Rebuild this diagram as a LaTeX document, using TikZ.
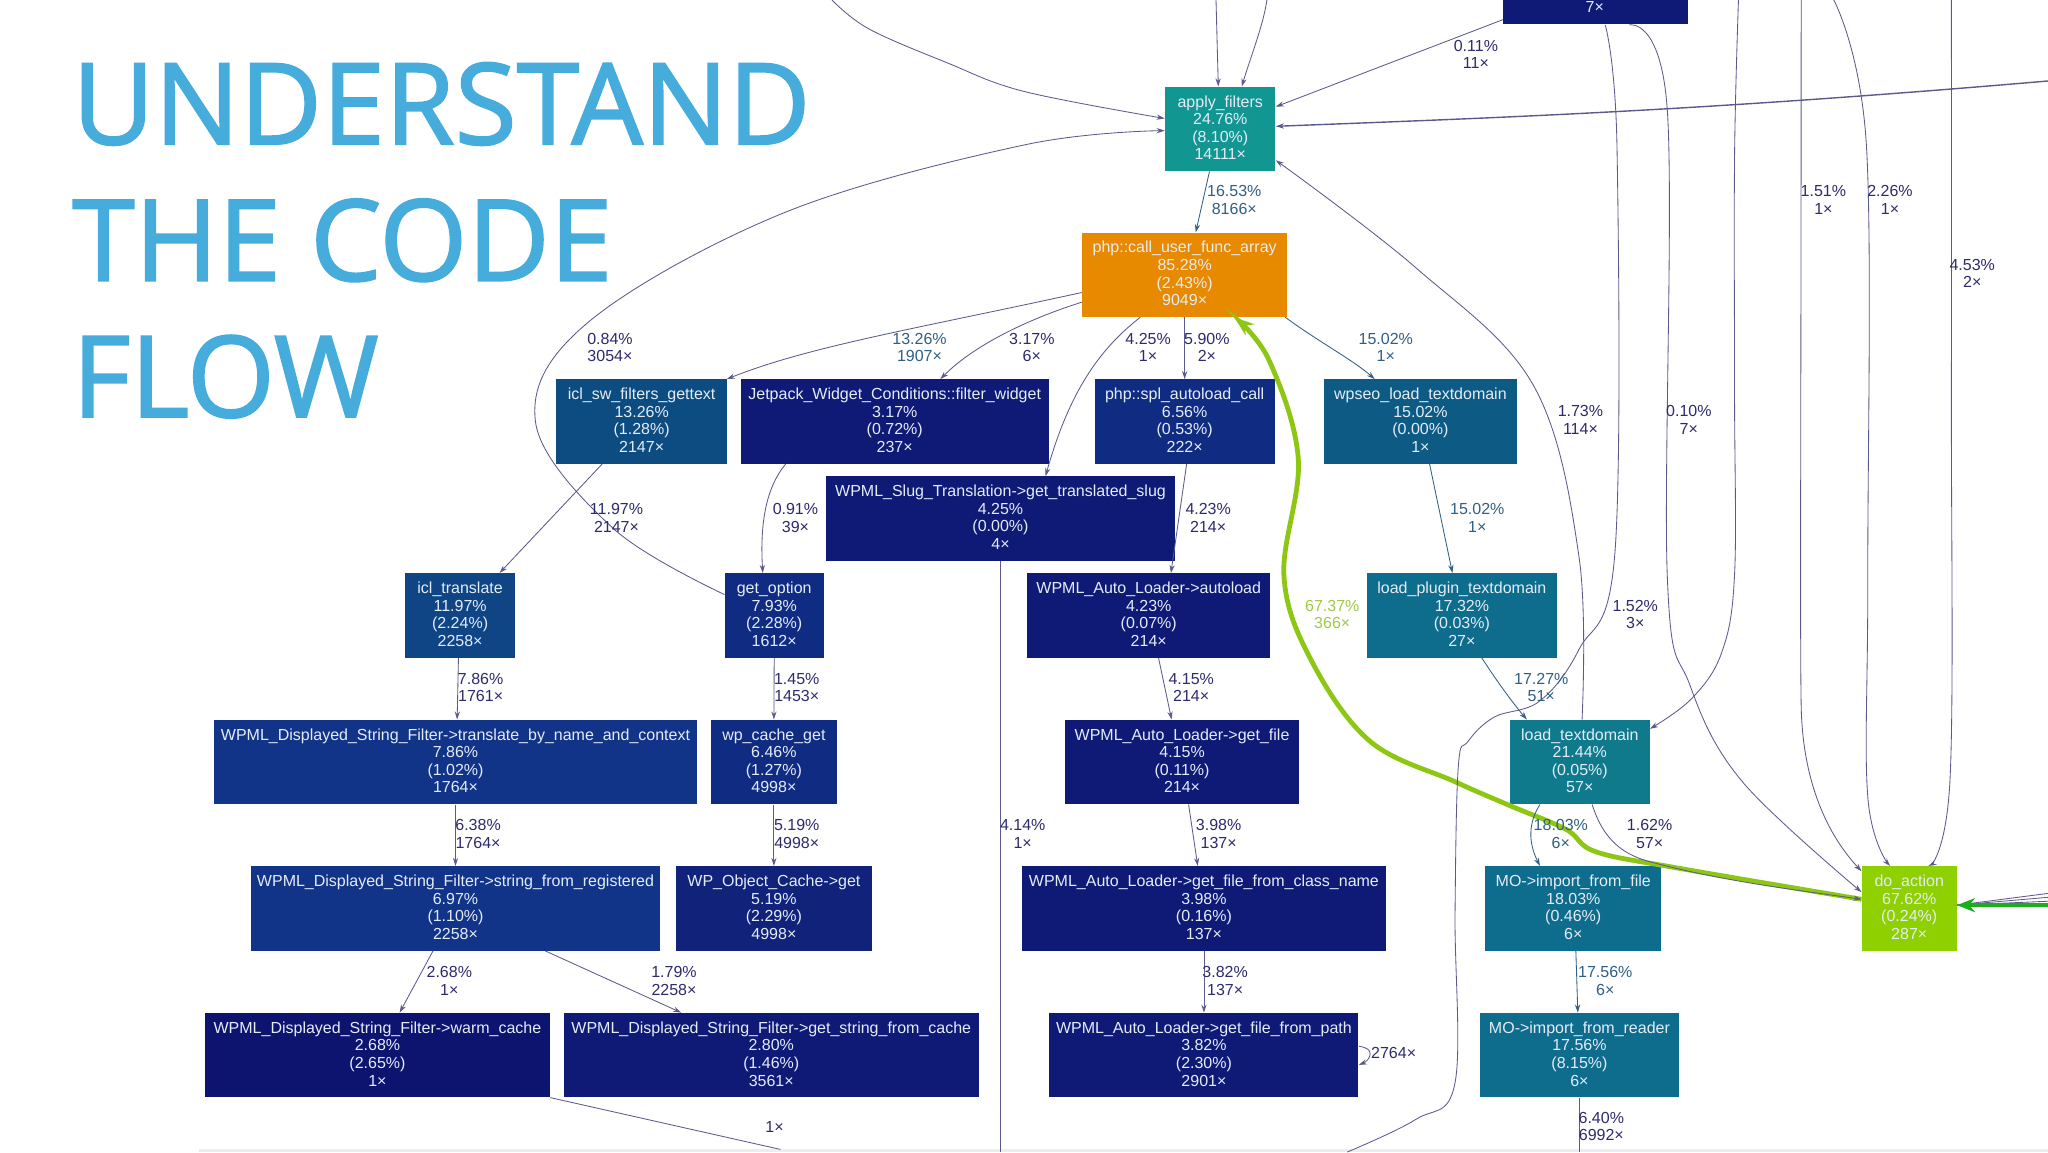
\documentclass[tikz,border=0pt]{standalone}
\usepackage{fontspec}
\setmainfont{Liberation Sans}
\newfontfamily\titlefont{Open Sans}[FakeBold=1.6]
\usetikzlibrary{arrows.meta}
\definecolor{titleblue}{HTML}{46ACDC}
\definecolor{edgeblue}{HTML}{5A5A8C}
\definecolor{labelblue}{HTML}{2E2A6E}
\definecolor{tealabel}{HTML}{305F85}
\definecolor{limelabel}{HTML}{A2C84A}
\definecolor{arrowlime}{HTML}{8DC714}
\definecolor{arrowgreen}{HTML}{1AAE1A}
\definecolor{fntext}{HTML}{E4ECF8}
% function box fills, hottest to coldest
\definecolor{fnorange}{HTML}{E88A00}
\definecolor{fnlime}{HTML}{8FD000}
\definecolor{fnteal}{HTML}{119691}
\definecolor{fnteala}{HTML}{0F7A8C}
\definecolor{fntealb}{HTML}{0E6C8C}
\definecolor{fntealc}{HTML}{0D5B84}
\definecolor{fnblue}{HTML}{0D4C80}
\definecolor{fnbluea}{HTML}{0F4584}
\definecolor{fnblueb}{HTML}{113488}
\definecolor{fnbluec}{HTML}{102C82}
\definecolor{fnnavy}{HTML}{10227A}
\definecolor{fnnavya}{HTML}{0E1A76}
\definecolor{fnnavyb}{HTML}{0C1470}
\tikzset{
  fn/.style 2 args={inner sep=0pt, text=fntext, align=center, rectangle,
    font=\fontsize{8}{8.8}\selectfont, text depth=1.3pt,
    minimum height=42.1pt, minimum width=#1*0.65306pt, fill=#2},
  lab/.style={inner sep=0pt, align=center, text=labelblue,
    font=\fontsize{8}{8.7}\selectfont},
  tlab/.style={lab, text=tealabel},
  call/.style={draw=edgeblue, line width=0.42pt, -{Stealth[length=4pt,width=2.6pt]}},
  open/.style={draw=edgeblue, line width=0.42pt},
  hot/.style={draw=arrowlime, line width=2.4pt, -{Stealth[length=10pt,width=7pt]}},
}
\begin{document}
\begin{tikzpicture}[x=0.65306pt, y=-0.65306pt]
  \clip (0,0) rectangle (1568,882);
  \fill[white] (0,0) rectangle (1568,882);
  \fill[black!7] (152,880) rectangle (1568,882);

  \node[inner sep=0pt, align=left, anchor=north west, text=titleblue,
    font=\titlefont\fontsize{56.5}{68.2}\selectfont] (title) at (55,47.5)
    {UNDERSTAND\\THE CODE\\FLOW};

  % functions
  \node[fn={141.5}{fnnavya}] (top) at (1221.75,-13.5) {};
  \node[fn={84.5}{fnteal}] (apply) at (934.25,98.7) {apply\_filters\\24.76\%\\(8.10\%)\\14111×};
  \node[fn={157}{fnorange}] (cufa) at (907,210.35) {php::call\_user\_func\_array\\85.28\%\\(2.43\%)\\9049×};
  \node[fn={130.5}{fnblue}] (sw) at (491.25,322.75) {icl\_sw\_filters\_gettext\\13.26\%\\(1.28\%)\\2147×};
  \node[fn={236}{fnnavya}] (jetpack) at (685,322.75) {Jetpack\_Widget\_Conditions::filter\_widget\\3.17\%\\(0.72\%)\\237×};
  \node[fn={138}{fnbluec}] (spl) at (907,322.75) {php::spl\_autoload\_call\\6.56\%\\(0.53\%)\\222×};
  \node[fn={148}{fntealc}] (wpseo) at (1087.5,322.75) {wpseo\_load\_textdomain\\15.02\%\\(0.00\%)\\1×};
  \node[fn={267}{fnnavya}] (slug) at (766,397) {WPML\_Slug\_Translation->get\_translated\_slug\\4.25\%\\(0.00\%)\\4×};
  \node[fn={84.5}{fnbluea}] (icl) at (352.25,471.2) {icl\_translate\\11.97\%\\(2.24\%)\\2258×};
  \node[fn={75.5}{fnbluec}] (option) at (592.75,471.2) {get\_option\\7.93\%\\(2.28\%)\\1612×};
  \node[fn={186}{fnnavya}] (autoload) at (879.5,471.2) {WPML\_Auto\_Loader->autoload\\4.23\%\\(0.07\%)\\214×};
  \node[fn={145.5}{fntealb}] (plugin) at (1119.25,471.2) {load\_plugin\_textdomain\\17.32\%\\(0.03\%)\\27×};
  \node[fn={369.5}{fnblueb}] (translate) at (348.75,583.4) {WPML\_Displayed\_String\_Filter->translate\_by\_name\_and\_context\\7.86\%\\(1.02\%)\\1764×};
  \node[fn={97}{fnbluec}] (cache) at (592.5,583.4) {wp\_cache\_get\\6.46\%\\(1.27\%)\\4998×};
  \node[fn={179}{fnnavya}] (getfile) at (905,583.4) {WPML\_Auto\_Loader->get\_file\\4.15\%\\(0.11\%)\\214×};
  \node[fn={107}{fnteala}] (textdomain) at (1209.5,583.4) {load\_textdomain\\21.44\%\\(0.05\%)\\57×};
  \node[fn={313.5}{fnblueb}] (registered) at (348.75,695.5) {WPML\_Displayed\_String\_Filter->string\_from\_registered\\6.97\%\\(1.10\%)\\2258×};
  \node[fn={150}{fnnavy}] (object) at (592.5,695.5) {WP\_Object\_Cache->get\\5.19\%\\(2.29\%)\\4998×};
  \node[fn={278.5}{fnnavya}] (classname) at (921.75,695.5) {WPML\_Auto\_Loader->get\_file\_from\_class\_name\\3.98\%\\(0.16\%)\\137×};
  \node[fn={135}{fntealb}] (mofile) at (1204.5,695.5) {MO->import\_from\_file\\18.03\%\\(0.46\%)\\6×};
  \node[fn={72.5}{fnlime}] (action) at (1461.75,695.5) {do\_action\\67.62\%\\(0.24\%)\\287×};
  \node[fn={264}{fnnavyb}] (warm) at (289,807.8) {WPML\_Displayed\_String\_Filter->warm\_cache\\2.68\%\\(2.65\%)\\1×};
  \node[fn={318}{fnnavya}] (fromcache) at (590.5,807.8) {WPML\_Displayed\_String\_Filter->get\_string\_from\_cache\\2.80\%\\(1.46\%)\\3561×};
  \node[fn={236.5}{fnnavya}] (frompath) at (921.75,807.8) {WPML\_Auto\_Loader->get\_file\_from\_path\\3.82\%\\(2.30\%)\\2901×};
  \node[fn={152.5}{fntealb}] (moreader) at (1209.25,807.8) {MO->import\_from\_reader\\17.56\%\\(8.15\%)\\6×};

  % hot path first, thin edges run over it
  \draw[hot] plot[smooth,tension=.6] coordinates {
    ([shift={(0,-7)}]action.west) (1284,664.5) (1221.5,652) (1199,635) (1156.5,617)
    (1114,598.5) (1049,567.6) (1004,505.7) (983,441) (994,351.5) (971.5,275.6)
    ([shift={(38,0)}]cufa.south)};
  \coordinate (fanA) at (1568,684);
  \coordinate (fanB) at (1568,687);
  \coordinate (fanC) at (1568,690);
  \draw[open] (fanA) -- ([shift={(0,-2.5)}]action.east);
  \draw[open] (fanB) -- ([shift={(0,-2.5)}]action.east);
  \draw[open] (fanC) -- ([shift={(0,-2.5)}]action.east);
  \coordinate (offright) at (1568,693);
  \draw[draw=arrowgreen, line width=2pt, -{Stealth[length=9pt,width=7pt]}] (offright) -- ([shift={(0,-2.5)}]action.east);

  % edges coming in from above the page
  \coordinate (inA) at (637,0);
  \coordinate (inB) at (931,0);
  \coordinate (inC) at (970,0);
  \coordinate (inD) at (1568,62);
  \coordinate (inE) at (1331,0);
  \coordinate (inF) at (1379,0);
  \coordinate (inG) at (1404,0);
  \coordinate (inH) at (1494,0);
  \draw[call] plot[smooth,tension=.6] coordinates {(inA) (665,22) (725,48) (784,70) ([shift={(0,-8)}]apply.west)};
  \draw[call] (inB) -- ([shift={(-1.5,0)}]apply.north);
  \draw[call] (inC) .. controls (967,20) and (957,45) .. ([shift={(16.5,0)}]apply.north);
  \draw[call, line width=0.7pt] (inD) .. controls (1300,85) and (1150,90) .. ([shift={(0,-2)}]apply.east);
  \draw[call] ([shift={(0,-4)}]top.south west) -- ([shift={(0,-17)}]apply.east);
  \draw[call] plot[smooth,tension=.6] coordinates {(inE) (1328,120) (1328,300) (1328,440) (1318,500) (1295,535) ([shift={(0,-25.4)}]textdomain.east)};
  \draw[call] (inF) .. controls (1379,300) and (1378,480) .. (1379,540) .. controls (1380,600) and (1400,640) .. ([shift={(0,-28.5)}]action.west);
  \draw[call] plot[smooth,tension=.6] coordinates {(inG) (1429,112) (1430,441) (1430,610) ([shift={(-14.75,0)}]action.north)};
  \draw[call] plot[smooth,tension=.6] coordinates {(inH) (1494,300) (1493,596) ([shift={(14.75,0)}]action.north)};

  % edges leaving the clipped box at the top
  \coordinate (outA) at (1031.5,882);
  \draw[open] plot[smooth,tension=.6] coordinates {([shift={(7.25,0)}]top.south)
    (1238,112.5) (1236.5,422) (1209,497) (1179,536.6) (1144,549) (1124,567.6) (1116.5,587)
    (1114,700) (1114,829) (1084,857) (outA)};
  \draw[call] plot[smooth,tension=.6] coordinates {([shift={(25.75,0)}]top.south)
    (1276.5,84) (1276.5,441) (1294,525) (1334,598.5) ([shift={(0,-12.5)}]action.west)};

  % apply_filters and call_user_func_array
  \draw[call, draw=tealabel] ([shift={(-8.25,0)}]apply.south) -- ([shift={(8.5,0)}]cufa.north);
  \draw[call] plot[smooth,tension=.6] coordinates {([shift={(1.75,0)}]textdomain.north)
    (1209,427) (1174,295) (1084,205) ([shift={(0,24)}]apply.east)};
  \draw[call] plot[smooth,tension=.6] coordinates {([shift={(0,-16)}]option.west)
    (470,405) (410,323) (450,247) (600,163) (784,111) ([shift={(0,1.3)}]apply.west)};
  \draw[call] ([shift={(0,13.6)}]cufa.west) .. controls (700,252) and (620,265) .. ([shift={(65.25,0)}]sw.north);
  \draw[call] ([shift={(0,21)}]cufa.west) .. controls (785,245) and (745,265) .. ([shift={(35,0)}]jetpack.north);
  \draw[call] ([shift={(-34,0)}]cufa.south) .. controls (845,265) and (820,295) .. ([shift={(34.5,0)}]slug.north);
  \draw[call] (cufa.south) -- (spl.north);
  \draw[call, draw=tealabel] ([shift={(77,0)}]cufa.south) .. controls (1010,262) and (1035,275) .. ([shift={(-35,0)}]wpseo.north);

  % the rest of the tree
  \draw[call, draw=tealabel] ([shift={(7,0)}]wpseo.south) -- ([shift={(-7.25,0)}]plugin.north);
  \draw[call] ([shift={(-30.25,0)}]sw.south) -- ([shift={(30.25,0)}]icl.north);
  \draw[call] ([shift={(-83.5,0)}]jetpack.south) .. controls (585,375) and (582,405) .. ([shift={(-8.75,0)}]option.north);
  \draw[call] ([shift={(1.5,0)}]spl.south) -- ([shift={(17,0)}]autoload.north);
  \coordinate (outC) at (766,882);
  \draw[open] (slug.south) -- (outC);
  \draw[call] ([shift={(-1.25,0)}]icl.south) -- ([shift={(1.25,0)}]translate.north);
  \draw[call] (option.south) -- (cache.north);
  \draw[call] ([shift={(7.5,0)}]autoload.south) -- ([shift={(-8,0)}]getfile.north);
  \draw[call, draw=tealabel] ([shift={(15.25,0)}]plugin.south) .. controls (1145,520) and (1158,538) .. ([shift={(-40.5,0)}]textdomain.north);
  \draw[call] (translate.south) -- (registered.north);
  \draw[call] (cache.south) -- (object.north);
  \draw[call] ([shift={(5,0)}]getfile.south) -- ([shift={(-4.75,0)}]classname.north);
  \draw[call, draw=tealabel] ([shift={(-30.5,0)}]textdomain.south) .. controls (1170,630) and (1170,645) .. ([shift={(-25.5,0)}]mofile.north);
  \draw[call] ([shift={(9.5,0)}]textdomain.south) .. controls (1228,645) and (1245,655) .. (1264,660) .. controls (1320,675) and (1380,682) .. ([shift={(0,-7)}]action.west);
  \draw[call] ([shift={(-17.25,0)}]registered.south) -- ([shift={(17,0)}]warm.north);
  \draw[call] ([shift={(68.75,0)}]registered.south) -- ([shift={(-69,0)}]fromcache.north);
  \draw[call] (classname.south) -- (frompath.north);
  \draw[call, draw=tealabel] ([shift={(2,0)}]mofile.south) -- ([shift={(-1.25,0)}]moreader.north);
  \coordinate (outD) at (1209.25,882);
  \draw[open] (moreader.south) -- (outD);
  \coordinate (outB) at (597.5,880);
  \draw[open] (warm.south east) -- (outB);
  \draw[call] ([shift={(0,-6.8)}]frompath.east) .. controls (1047,802) and (1049,804) .. (1049,807) .. controls (1049,810) and (1046,813) .. ([shift={(0,7.5)}]frompath.east);

  % edge labels
  \node[lab, text=fntext] (top7) at (1221,5.5) {7×};
  \node[lab] (l01) at (1130,41.5) {0.11\%\\11×};
  \node[tlab] (l02) at (945,153) {16.53\%\\8166×};
  \node[lab] (l03) at (1396,153) {1.51\%\\1×};
  \node[lab] (l04) at (1447,153) {2.26\%\\1×};
  \node[lab] (l05) at (1510,209.5) {4.53\%\\2×};
  \node[lab] (l06) at (467,266) {0.84\%\\3054×};
  \node[tlab] (l07) at (704,266) {13.26\%\\1907×};
  \node[lab] (l08) at (790,266) {3.17\%\\6×};
  \node[lab] (l09) at (879,266) {4.25\%\\1×};
  \node[lab] (l10) at (924,266) {5.90\%\\2×};
  \node[tlab] (l11) at (1061,266) {15.02\%\\1×};
  \node[lab] (l12) at (1210,321.5) {1.73\%\\114×};
  \node[lab] (l13) at (1293,321.5) {0.10\%\\7×};
  \node[lab] (l14) at (472,396.5) {11.97\%\\2147×};
  \node[lab] (l15) at (609,396.5) {0.91\%\\39×};
  \node[lab] (l16) at (925,396.5) {4.23\%\\214×};
  \node[tlab] (l17) at (1131,396.5) {15.02\%\\1×};
  \node[lab, text=limelabel] (l18) at (1020,470.5) {67.37\%\\366×};
  \node[lab] (l19) at (1252,470.5) {1.52\%\\3×};
  \node[lab] (l20) at (368,526.5) {7.86\%\\1761×};
  \node[lab] (l21) at (610,526.5) {1.45\%\\1453×};
  \node[lab] (l22) at (912,526.5) {4.15\%\\214×};
  \node[tlab] (l23) at (1180,526.5) {17.27\%\\51×};
  \node[lab] (l24) at (366,638.5) {6.38\%\\1764×};
  \node[lab] (l25) at (610,638.5) {5.19\%\\4998×};
  \node[lab] (l26) at (783,638.5) {4.14\%\\1×};
  \node[lab] (l27) at (933,638.5) {3.98\%\\137×};
  \node[tlab] (l28) at (1195,638.5) {18.03\%\\6×};
  \node[lab] (l29) at (1263,638.5) {1.62\%\\57×};
  \node[lab] (l30) at (344,751) {2.68\%\\1×};
  \node[lab] (l31) at (516,751) {1.79\%\\2258×};
  \node[lab] (l32) at (938,751) {3.82\%\\137×};
  \node[tlab] (l33) at (1229,751) {17.56\%\\6×};
  \node[lab] (l34) at (1067,806) {2764×};
  \node[lab] (l35) at (593,863) {1×};
  \node[lab] (l36) at (1226,862.5) {6.40\%\\6992×};
\end{tikzpicture}
\end{document}
